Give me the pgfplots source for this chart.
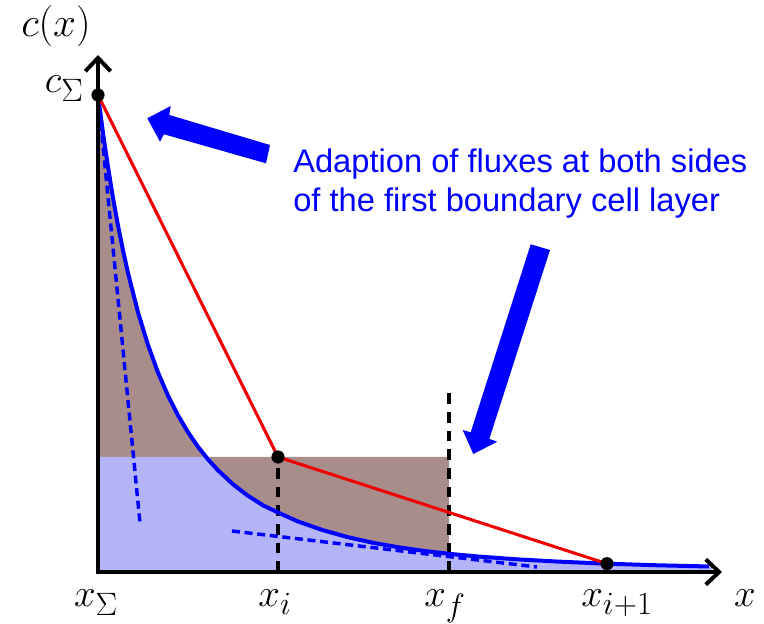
\documentclass[border=0pt]{standalone}
\usepackage[no-math]{fontspec}
\setmainfont{Liberation Sans}
\usepackage{pgfplots}
\pgfplotsset{compat=1.18}
\usepackage{pgfplotstable}
\usetikzlibrary{arrows.meta}
\definecolor{brownfill}{RGB}{168,141,139}
\definecolor{bluefill}{RGB}{180,180,248}
\definecolor{pureblue}{RGB}{0,0,255}
\definecolor{purered}{RGB}{240,0,0}
\pgfplotstableread{
x y
0 477
5 439
10 405
15 374
20 346.5
25 321.6
30 299
40 259.7
50 227
60 199.5
70 176.4
80 156.7
90 139.8
100 125.2
110 112.6
120 101.7
135 87.7
150 76.2
165 66.7
180 59.5
200 50.5
225 41.8
250 34.8
275 29.2
300 24.8
325 21.2
351 18.2
380 15.5
420 12.6
460 10.4
509 8.3
560 6.7
611 5.5
}\curvetable
\tikzset{mlab/.style={inner sep=0pt, font=\fontsize{24.88}{30}\selectfont, scale=1.17, transform shape}}
\begin{document}
\begin{tikzpicture}
\begin{axis}[
  scale only axis, width=468pt, height=387.75pt,
  xmin=0, xmax=624, ymin=0, ymax=517,
  hide axis, clip=false,
]
% brown region
\addplot[draw=none, fill=brownfill] coordinates {
(0,477)(5,439)(10,405)(15,374)(20,346.5)(25,321.6)(30,299)(40,259.7)(50,227)(60,199.5)(70,176.4)(80,156.7)(90,139.8)(100,125.2)(108,115)(351,115)} \closedcycle;
% light blue region
\addplot[draw=none, fill=bluefill] coordinates {
(0,115)(108,115)(110,112.6)(120,101.7)(135,87.7)(150,76.2)(165,66.7)(180,59.5)(200,50.5)(225,41.8)(250,34.8)(275,29.2)(300,24.8)(325,21.2)(351,18.2)(380,15.5)(420,12.6)(460,10.4)(509,8.3)(560,6.7)(614,5.5)} \closedcycle;
% black dashed verticals
\addplot[black, line width=2.5pt, dash pattern=on 8pt off 6pt] coordinates {(180,0)(180,115)};
\addplot[black, line width=2.5pt, dash pattern=on 8pt off 6pt] coordinates {(351,0)(351,184)};
% tangent lines
\addplot[pureblue, line width=2.6pt, dash pattern=on 6pt off 3.5pt] coordinates {(1.5,462)(42,49)};
\addplot[pureblue, line width=2.6pt, dash pattern=on 6pt off 3.5pt] coordinates {(134,41)(439,5)};
% concentration curve
\addplot[pureblue, line width=3pt, line join=round] table[x=x,y=y] {\curvetable};
% piecewise linear
\addplot[purered, line width=2.3pt, line join=round] coordinates {(0,477)(180,115)(509,8.3)};
% axes
\draw[line width=3pt, {Straight Barb[length=10pt,width=19pt]}-{Straight Barb[length=10pt,width=19pt]}]
  (axis cs:0,517) -- (axis cs:0,0) -- (axis cs:624,0);
% dots
\addplot[only marks, mark=*, mark size=4.7pt, black] coordinates {(0,477)(180,115)(509,8.3)};
% big arrows
\fill[pureblue] (axis cs:49.3,453.7) -- (axis cs:72.7,466) -- (axis cs:71.3,457) -- (axis cs:172,427) -- (axis cs:168,408.7) -- (axis cs:66,437.7) -- (axis cs:62,430.3) -- cycle;
\fill[pureblue] (axis cs:432.7,327.7) -- (axis cs:452,322) -- (axis cs:391.3,133) -- (axis cs:399.3,130.3) -- (axis cs:375.3,118) -- (axis cs:364.7,142) -- (axis cs:372.7,139.7) -- cycle;
% annotation text
\node[anchor=base west, text=pureblue, font=\fontsize{24.5}{29}\selectfont, inner sep=0pt] at (axis cs:195,399) {Adaption of fluxes at both sides};
\node[anchor=base west, text=pureblue, font=\fontsize{24.5}{29}\selectfont, inner sep=0pt] at (axis cs:195,360) {of the first boundary cell layer};
% labels
\node[mlab, anchor=center, scale=1.06] at (axis cs:-42,546) {$c(x)$};
\node[mlab, anchor=base east] at (axis cs:-14,479) {$c_\Sigma$};
\node[mlab, anchor=base] at (axis cs:-2,-35) {$x_\Sigma$};
\node[mlab, anchor=base] at (axis cs:177,-35) {$x_i$};
\node[mlab, anchor=base] at (axis cs:347,-35) {$x_f$};
\node[mlab, anchor=base] at (axis cs:519,-35) {$x_{i+1}$};
\node[mlab, anchor=base] at (axis cs:647,-35) {$x$};
\coordinate (BL) at (axis cs:-98,-52);
\coordinate (TR) at (axis cs:666,572);
\end{axis}
\pgfresetboundingbox
\path (BL) rectangle (TR);
\end{tikzpicture}
\end{document}
